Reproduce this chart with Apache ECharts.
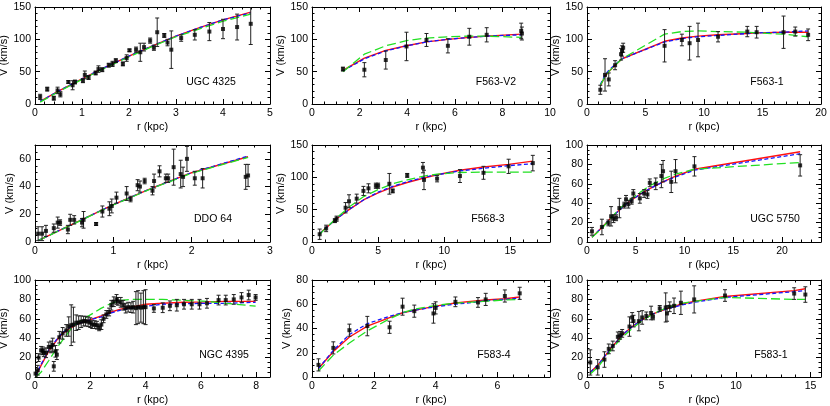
<!DOCTYPE html>
<html>
<head>
<meta charset="utf-8">
<script src="https://cdn.jsdelivr.net/npm/echarts@6/dist/echarts.min.js"></script>
<style>
html, body { margin: 0; padding: 0; background: #fff; }
#chart { width: 830px; height: 406px; }
</style>
</head>
<body>
<div id="chart"></div>
<script>
// UGC 4325
var ugc4325R = [0.11,0.26,0.40,0.48,0.54,0.71,0.80,0.85,1.02,1.06,1.14,1.29,1.35,1.43,1.57,1.65,1.72,1.87,1.95,2.01,2.15,2.24,2.32,2.45,2.53,2.60,2.75,2.82,2.90,3.11,3.40,3.71,4.00,4.30,4.59];
var ugc4325V = [11,23,9,21,15,34,29,34,36,45,41,48,54,53,60,62,67,62,71,83,84,80,88,98,87,111,106,95,84,102,107,112,116,119,124];
var ugc4325E = [4,3,3,5,4,2,7,3,3,6,3,3,5,3,3,4,3,3,5,2,4,14,6,4,4,22,3,5,29,5,8,14,15,20,32];
var ugc4325CurveR = [0.11,0.5,1.0,1.5,2.0,2.5,3.0,3.5,4.0,4.59];
var ugc4325Red = [4,20,39,57,74,90,105,118,130,142];
var ugc4325Blue = [4,20,39,57,74,90,105,118,130,141];
var ugc4325Green = [3,19,38,56,73,89,104,116,128,139];

// F563-V2
var f563v2R = [1.30,2.20,3.10,3.97,4.81,5.71,6.61,7.34,8.79,8.82];
var f563v2V = [54,53,68,89,99,90,104,107,113,109];
var f563v2E = [3,11,14,22,10,11,13,11,12,10];
var f563v2CurveR = [1.3,2.2,3.1,3.97,4.81,5.71,6.61,7.34,8.8];
var f563v2Red = [52,71,83,90,96,100,103,105,108];
var f563v2Blue = [51,70,82,90,96,100,103,105,107];
var f563v2Green = [50,77,90,98,102,104,105,105,103];

// F563-1
var f5631R = [1.14,1.54,1.86,2.40,2.91,3.00,3.09,6.63,8.11,8.77,9.49,11.2,13.7,14.5,16.8,17.8,18.9];
var f5631V = [22,45,38,60,77,82,87,90,99,94,99,104,112,111,111,112,107];
var f5631E = [7,25,10,7,9,8,7,25,9,26,26,8,8,9,25,7,9];
var f5631CurveR = [1.14,1.54,1.86,2.40,3.0,6.63,8.11,9.49,11.2,13.7,14.5,16.8,17.8,18.9];
var f5631Red = [28,43,50,60,70,97,102,105,107,109,110,111,111,111];
var f5631Blue = [30,45,52,61,70,96,101,104,106,109,110,111,112,113];
var f5631Green = [29,42,50,60,70,108,112,113,112,111,110,108,106,104];

// DDO 64
var ddo64R = [0.04,0.09,0.14,0.24,0.29,0.32,0.42,0.45,0.50,0.60,0.62,0.78,0.86,0.95,0.98,1.04,1.17,1.22,1.31,1.34,1.40,1.50,1.52,1.59,1.67,1.70,1.77,1.86,1.89,1.94,2.04,2.14,2.69,2.72];
var ddo64V = [6,6,8,10,14,14,9,16,16,14,16,13,22,24,26,32,35,31,41,40,44,37,44,51,46,46,54,49,47,60,46,46,47,48];
var ddo64E = [5,5,4,3,4,2,3,4,3,3,6,1,4,5,5,4,5,2,4,4,2,3,5,4,3,3,13,10,7,9,5,7,9,8];
var ddo64CurveR = [0.04,0.5,1.0,1.5,2.0,2.72];
var ddo64Red = [1,13.5,27,39,50,61.5];
var ddo64Blue = [1,13.5,27,39,50,62];
var ddo64Green = [1,13.3,26.8,38.8,49.7,61];

// F568-3
var f5683R = [0.58,1.07,1.73,1.86,2.54,2.80,3.38,3.89,4.27,4.83,5.00,5.85,6.10,7.20,8.39,8.47,9.46,11.19,12.97,14.87,16.70];
var f5683V = [12,21,33,36,53,63,67,79,83,87,87,90,79,103,115,96,98,102,107,117,122];
var f5683E = [8,5,3,4,8,10,7,7,7,4,4,16,3,3,8,15,5,10,10,11,12];
var f5683CurveR = [0.58,1.07,1.86,2.8,3.89,5.0,6.1,7.2,8.47,9.46,11.19,12.97,14.87,16.7];
var f5683Red = [13,22,36,50,65,76,85,92,99,104,111,116,120,125];
var f5683Blue = [13,22,36,50,65,77,86,93,100,104,110,114,118,121];
var f5683Green = [12,22,37,54,70,81,90,96,102,105,107.5,108,108,108];

// UGC 5750
var ugc5750R = [0.51,1.53,2.20,2.47,2.71,2.98,3.32,3.83,4.00,4.24,4.58,4.75,5.42,5.86,6.20,6.44,7.05,7.63,7.80,8.64,9.08,11.02,21.86];
var ugc5750V = [11,15.5,19.7,26.5,24,25,35,38,44,39,42,50,45,50,49,61,60,68,73,62,73,78,79];
var ugc5750E = [4,8,3,10,4,3,10,3,4,4,3,4,5,4,4,4,6,12,11,11,12,10,11];
var ugc5750CurveR = [0.51,1.53,2.47,3.32,4.24,5.42,6.44,7.8,9.08,11.02,21.86];
var ugc5750Red = [5,15,25,33,41,49,55,62,68,75,93];
var ugc5750Blue = [5,15,25,33,41,49,55,62,67,74,91];
var ugc5750Green = [5,14,25,34,42,51,58,65,70,75,82];

// NGC 4395
var ngc4395R = [0.02,0.10,0.13,0.22,0.28,0.32,0.40,0.50,0.58,0.64,0.68,0.74,0.79,0.88,1.00,1.13,1.22,1.31,1.39,1.49,1.58,1.67,1.76,1.83,1.92,2.00,2.07,2.16,2.24,2.32,2.40,2.48,2.58,2.68,2.76,2.85,2.95,3.00,3.10,3.19,3.28,3.37,3.47,3.55,3.65,3.73,3.83,3.92,4.00,4.30,4.62,4.88,5.13,5.39,5.67,5.95,6.22,6.64,6.90,7.19,7.47,7.73,7.98];
var ngc4395V = [3.5,7,20,27.5,27,25,25,31,31,33,11,26.5,23,41,45,48,52,53.4,54,56,56,57,57.6,57.6,57,56,54,54,53.4,50.7,54,60,64.5,67,74,77.6,80,78,77,74,71,72,71.5,72,71,72,71.5,72,72,70.7,71.4,73.4,74,75,75,75,76,79.3,79.3,80,82,84.5,82];
var ngc4395E = [3,5,4,4,4,4,5,5,6,7,5,6,5,6,6,6,10,21,18,8,7,6,5,5,5,5,4,4,4,3,5,4,4,4,5,5,5,4,5,5,5,5,5,6,17,17,15,17,18,4,5,5,6,5,5,5,5,5,5,5,5,5,3];
var ngc4395CurveR = [0.02,0.22,0.5,0.79,1.0,1.31,1.58,2.0,2.4,2.76,3.1,3.47,4.0,4.62,5.39,6.22,6.9,7.98];
var ngc4395Red = [1,12,27,38,45,51,55,59,63,67,70,72,75,76,77,77.5,78,78];
var ngc4395Blue = [1,13,28,39,46,52,55,59,62,66,69,71,73,75,75.5,76,76,77];
var ngc4395Green = [0,5,17,30,38,50,57,64,71,76,79,80,80,80,79,78,76,73];

// F583-4
var f5834R = [0.21,0.69,1.21,1.79,2.51,2.93,3.31,3.93,4.00,4.64,5.37,5.62,6.24,6.72];
var f5834V = [10,24,38.6,42,41,58,54.3,52.4,57,62,61.5,64,66.8,69];
var f5834E = [5,5,5,8,5,7,5,8,5,4,4,5,5,5];
var f5834CurveR = [0.21,0.69,1.21,1.79,2.51,2.93,3.31,4.0,4.64,5.37,5.62,6.24,6.72];
var f5834Red = [7,21,33,42,49,53,55,58.5,61,63,63.5,64.5,66];
var f5834Blue = [7,22,35,44,50,53,55,58,60,62,63,64,65];
var f5834Green = [5,18,28,38,48,53,56,59,61,62,62.5,63.5,64];

// F583-1
var f5831R = [0.22,0.72,1.17,1.46,1.73,2.07,2.22,2.36,2.85,3.03,3.12,3.48,3.70,3.98,4.30,4.43,4.88,5.28,5.37,5.55,5.84,6.30,7.19,9.26,13.9,14.65];
var f5831V = [15,10,18,29,32,41.4,43,45,52,61.4,57.6,57.6,61.4,63,66,62,70.7,71.7,65.5,72.4,73.4,76.5,80,84,86,85];
var f5831E = [13,8,8,5,5,5,4,4,10,5,6,10,7,4,7,3,3,15,8,5,8,12,14,6,6,8];
var f5831CurveR = [0.22,0.72,1.17,1.73,2.36,3.03,3.7,4.43,5.28,6.3,7.19,9.26,13.9,14.65];
var f5831Red = [5,12,21,32,43,52,59,65,70,75,78,83,89,91];
var f5831Blue = [5,12,21,32,43,52,59,65,70,74,77,82,88,89];
var f5831Green = [3,10,19,30,41,50,58,65,71,76,78,82,80,80];

var panels = [
    {name: 'UGC 4325', r: ugc4325R, v: ugc4325V, e: ugc4325E, cr: ugc4325CurveR, red: ugc4325Red, blue: ugc4325Blue, green: ugc4325Green, xMax: 5, xStep: 1, xMinor: 5, yMax: 150, yStep: 50, yMinor: 5},
    {name: 'F563-V2', r: f563v2R, v: f563v2V, e: f563v2E, cr: f563v2CurveR, red: f563v2Red, blue: f563v2Blue, green: f563v2Green, xMax: 10, xStep: 2, xMinor: 4, yMax: 150, yStep: 50, yMinor: 5},
    {name: 'F563-1', r: f5631R, v: f5631V, e: f5631E, cr: f5631CurveR, red: f5631Red, blue: f5631Blue, green: f5631Green, xMax: 20, xStep: 5, xMinor: 5, yMax: 150, yStep: 50, yMinor: 5},
    {name: 'DDO 64', r: ddo64R, v: ddo64V, e: ddo64E, cr: ddo64CurveR, red: ddo64Red, blue: ddo64Blue, green: ddo64Green, xMax: 3, xStep: 1, xMinor: 5, yMax: 70, yStep: 20, yMinor: 4},
    {name: 'F568-3', r: f5683R, v: f5683V, e: f5683E, cr: f5683CurveR, red: f5683Red, blue: f5683Blue, green: f5683Green, xMax: 18, xStep: 5, xMinor: 5, yMax: 150, yStep: 50, yMinor: 5},
    {name: 'UGC 5750', r: ugc5750R, v: ugc5750V, e: ugc5750E, cr: ugc5750CurveR, red: ugc5750Red, blue: ugc5750Blue, green: ugc5750Green, xMax: 24, xStep: 5, xMinor: 5, yMax: 100, yStep: 20, yMinor: 4},
    {name: 'NGC 4395', r: ngc4395R, v: ngc4395V, e: ngc4395E, cr: ngc4395CurveR, red: ngc4395Red, blue: ngc4395Blue, green: ngc4395Green, xMax: 8.5, xStep: 2, xMinor: 4, yMax: 100, yStep: 20, yMinor: 4},
    {name: 'F583-4', r: f5834R, v: f5834V, e: f5834E, cr: f5834CurveR, red: f5834Red, blue: f5834Blue, green: f5834Green, xMax: 7.7, xStep: 2, xMinor: 4, yMax: 80, yStep: 20, yMinor: 4},
    {name: 'F583-1', r: f5831R, v: f5831V, e: f5831E, cr: f5831CurveR, red: f5831Red, blue: f5831Blue, green: f5831Green, xMax: 15.7, xStep: 5, xMinor: 5, yMax: 100, yStep: 20, yMinor: 4}
];

var colLeft = [35, 312, 587];
var colWidth = [235, 238, 234];
var rowTop = [7, 145, 280];
var rowHeight = 97;
var labelPos = [[211, 82], [496, 82], [767, 82], [213, 219], [488, 219], [775, 219], [224, 355], [494, 355], [771, 355]];
var font = 'Liberation Sans, Arial, Helvetica, sans-serif';

function pairs(a, b) {
    var out = [];
    for (var i = 0; i < a.length; i++) out.push([a[i], b[i]]);
    return out;
}

function triples(a, b, c) {
    var out = [];
    for (var i = 0; i < a.length; i++) out.push([a[i], b[i], c[i]]);
    return out;
}

function tickFmt(step) {
    return function (v) {
        var k = v / step;
        return Math.abs(k - Math.round(k)) < 1e-6 ? String(Math.round(v * 100) / 100) : '';
    };
}

function makeAxis(dir, gi, max, step, minor, pos, main) {
    var ax = {
        type: 'value', gridIndex: gi, position: pos,
        min: 0, max: max, interval: step,
        axisLine: {show: true, onZero: false, lineStyle: {color: '#000', width: 1}},
        axisTick: {show: true, inside: true, length: 5, lineStyle: {color: '#000', width: 1}},
        minorTick: {show: true, splitNumber: minor, length: 2.5, lineStyle: {color: '#000', width: 1}},
        splitLine: {show: false},
        axisLabel: {show: main, margin: 4, color: '#000', fontSize: 10.5, fontFamily: font, formatter: tickFmt(step)}
    };
    if (main) {
        ax.name = dir == 'x' ? 'r (kpc)' : 'V (km/s)';
        ax.nameLocation = 'middle';
        ax.nameGap = dir == 'x' ? 17 : 19;
        ax.nameTextStyle = {color: '#000', fontSize: 11, fontFamily: font};
    }
    return ax;
}

// error bars drawn through the axis scale
function renderErr(params, api) {
    var x = api.value(0), y = api.value(1), e = api.value(2);
    var lo = api.coord([x, y - e]);
    var hi = api.coord([x, y + e]);
    var w = 2;
    var st = {stroke: '#222', lineWidth: 1};
    return {
        type: 'group',
        children: [
            {type: 'line', shape: {x1: lo[0], y1: lo[1], x2: hi[0], y2: hi[1]}, style: st},
            {type: 'line', shape: {x1: lo[0] - w, y1: lo[1], x2: lo[0] + w, y2: lo[1]}, style: st},
            {type: 'line', shape: {x1: hi[0] - w, y1: hi[1], x2: hi[0] + w, y2: hi[1]}, style: st}
        ]
    };
}

var grids = [], xAxes = [], yAxes = [], series = [], texts = [];

for (var i = 0; i < panels.length; i++) {
    var p = panels[i];
    var row = Math.floor(i / 3), col = i % 3;
    grids.push({left: colLeft[col], top: rowTop[row], width: colWidth[col], height: rowHeight, outerBoundsMode: 'none'});

    xAxes.push(makeAxis('x', i, p.xMax, p.xStep, p.xMinor, 'bottom', true));
    xAxes.push(makeAxis('x', i, p.xMax, p.xStep, p.xMinor, 'top', false));
    yAxes.push(makeAxis('y', i, p.yMax, p.yStep, p.yMinor, 'left', true));
    yAxes.push(makeAxis('y', i, p.yMax, p.yStep, p.yMinor, 'right', false));

    var xi = i * 2, yi = i * 2;
    series.push({
        type: 'line', xAxisIndex: xi, yAxisIndex: yi, data: pairs(p.cr, p.red),
        showSymbol: false, silent: true, z: 3,
        lineStyle: {color: '#ff1010', width: 1.4}
    });
    series.push({
        type: 'line', xAxisIndex: xi, yAxisIndex: yi, data: pairs(p.cr, p.blue),
        showSymbol: false, silent: true, z: 3,
        lineStyle: {color: '#1515ff', width: 1.3, type: [4, 2.5]}
    });
    series.push({
        type: 'line', xAxisIndex: xi, yAxisIndex: yi, data: pairs(p.cr, p.green),
        showSymbol: false, silent: true, z: 3,
        lineStyle: {color: '#22e022', width: 1.3, type: [9, 4]}
    });
    series.push({
        type: 'custom', xAxisIndex: xi, yAxisIndex: yi, data: triples(p.r, p.v, p.e),
        renderItem: renderErr, clip: true, silent: true, z: 4
    });
    series.push({
        type: 'scatter', xAxisIndex: xi, yAxisIndex: yi, data: pairs(p.r, p.v),
        symbol: 'rect', symbolSize: 4, silent: true, z: 5,
        itemStyle: {color: '#000'}
    });

    texts.push({
        type: 'text', x: labelPos[i][0], y: labelPos[i][1],
        style: {text: p.name, fill: '#000', fontSize: 10.5, fontFamily: font, textAlign: 'center', textVerticalAlign: 'middle'}
    });
}

var chart = echarts.init(document.getElementById('chart'), null, {renderer: 'canvas'});
chart.setOption({
    animation: false,
    backgroundColor: '#fff',
    grid: grids,
    xAxis: xAxes,
    yAxis: yAxes,
    series: series,
    graphic: texts
});
</script>
</body>
</html>
